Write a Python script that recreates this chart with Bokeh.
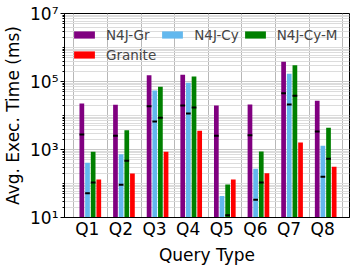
from bokeh.plotting import figure
from bokeh.models import (ColumnDataSource, FixedTicker, Legend, LegendItem,
                          CustomJSTickFormatter, Range1d)
from bokeh.embed import file_html
from bokeh.resources import INLINE

queries = ["Q1", "Q2", "Q3", "Q4", "Q5", "Q6", "Q7", "Q8"]
series = ["N4J-Gr", "N4J-Cy", "N4J-Cy-M", "Granite"]
colors = ["#800080", "#63B8EE", "#008000", "#FF0000"]

n4j_gr = [22500, 20600, 153000, 157000, 19700, 21100, 380000, 27000]
n4j_cy = [406, 727, 54300, 91600, 43, 270, 168000, 1290]
n4j_cy_m = [856, 3700, 69800, 140000, 93, 873, 301000, 4350]
granite = [131, 197, 856, 3550, 131, 201, 1610, 310]

# short black marks drawn inside the bars
n4j_gr_mark = [2760, 2530, 18800, 19700, 2530, 2640, 45300, 3380]
n4j_cy_mark = [52, 92, 6660, 11500, float("nan"), 33, 21100, 157]
n4j_cy_m_mark = [107, 465, 8560, 17200, 11.7, 107, 37900, 532]

values = [n4j_gr, n4j_cy, n4j_cy_m, granite]
marks = [n4j_gr_mark, n4j_cy_mark, n4j_cy_m_mark, None]

y_major = [10, 1000, 100000, 10000000]
y_labels = ["10\u00b9", "10\u00b3", "10\u2075", "10\u2077"]

offsets = [0.24, 0.408, 0.576, 0.744]
bar_w = 0.14

p = figure(frame_width=285, frame_height=204, output_backend="svg", toolbar_location=None,
           y_axis_type="log", x_range=Range1d(-0.276, 8.2),
           y_range=Range1d(10, 1e7),
           min_border_left=54, min_border_right=2, min_border_top=13,
           min_border_bottom=0)

items = []
for k in range(4):
    xs = [i + offsets[k] for i in range(len(queries))]
    src = ColumnDataSource(dict(x=xs, top=values[k]))
    r = p.vbar(x="x", top="top", bottom=1, width=bar_w, source=src,
               fill_color=colors[k], line_color=None)
    items.append(LegendItem(label=series[k], renderers=[r]))
    if marks[k] is not None:
        msrc = ColumnDataSource(dict(x=xs, y=marks[k]))
        p.rect(x="x", y="y", width=bar_w, height=2, height_units="screen",
               source=msrc, fill_color="black", line_color=None)

# axes / ticks
minor = []
for e in range(1, 7):
    for m in range(2, 11):
        minor.append(m * 10 ** e)
p.yaxis.ticker = FixedTicker(ticks=y_major, minor_ticks=minor)
p.yaxis.formatter = CustomJSTickFormatter(args=dict(yvals=y_major, ylabs=y_labels), code="""
    for (let i = 0; i < yvals.length; i++) {
        if (Math.abs(Math.log10(tick) - Math.log10(yvals[i])) < 1e-6) return ylabs[i];
    }
    return "";
""")
p.xaxis.ticker = FixedTicker(ticks=[i + 0.4 for i in range(len(queries))])
p.xaxis.formatter = CustomJSTickFormatter(args=dict(qlabs=queries), code="""
    return qlabs[Math.round(tick - 0.4)];
""")
p.xgrid.ticker = FixedTicker(ticks=list(range(9)))

for ax in (p.xaxis, p.yaxis):
    ax.major_label_text_font = "DejaVu Sans"
    ax.major_label_text_font_size = "17px"
    ax.major_label_text_color = "black"
    ax.axis_label_text_font = "DejaVu Sans"
    ax.axis_label_text_font_size = "17px"
    ax.axis_label_text_font_style = "normal"
    ax.axis_label_text_color = "black"
    ax.axis_line_color = "black"
    ax.major_tick_in = 0
    ax.minor_tick_in = 0

p.xaxis.axis_label = "Query Type"
p.yaxis.axis_label = "Avg. Exec. Time (ms)"
p.xaxis.major_tick_line_color = None
p.xaxis.minor_tick_line_color = None
p.xaxis.major_tick_out = 0
p.xaxis.minor_tick_out = 0
p.xaxis.major_label_standoff = 1
p.xaxis.axis_label_standoff = 3
p.yaxis.major_tick_out = 4
p.yaxis.minor_tick_out = 2
p.yaxis.major_label_standoff = 2
p.yaxis.axis_label_standoff = 4

p.xgrid.grid_line_color = "#b8b8b8"
p.xgrid.grid_line_width = 1
p.ygrid.grid_line_color = "#c8c8c8"
p.ygrid.minor_grid_line_color = "#dcdcdc"
p.ygrid.minor_grid_line_width = 1

p.outline_line_color = "black"
p.outline_line_alpha = 1
p.outline_line_width = 1
p.background_fill_color = "white"

legend = Legend(items=items, location=(7, 154), orientation="horizontal", ncols=3)
legend.label_text_font = "DejaVu Sans"
legend.label_text_font_size = "13.5px"
legend.glyph_width = 26
legend.glyph_height = 9
legend.label_height = 17
legend.label_standoff = 9
legend.spacing = 3
legend.padding = 0
legend.margin = 0
legend.background_fill_alpha = 0
legend.border_line_alpha = 0
p.add_layout(legend)

open("out.html", "w").write(file_html(p, INLINE))
